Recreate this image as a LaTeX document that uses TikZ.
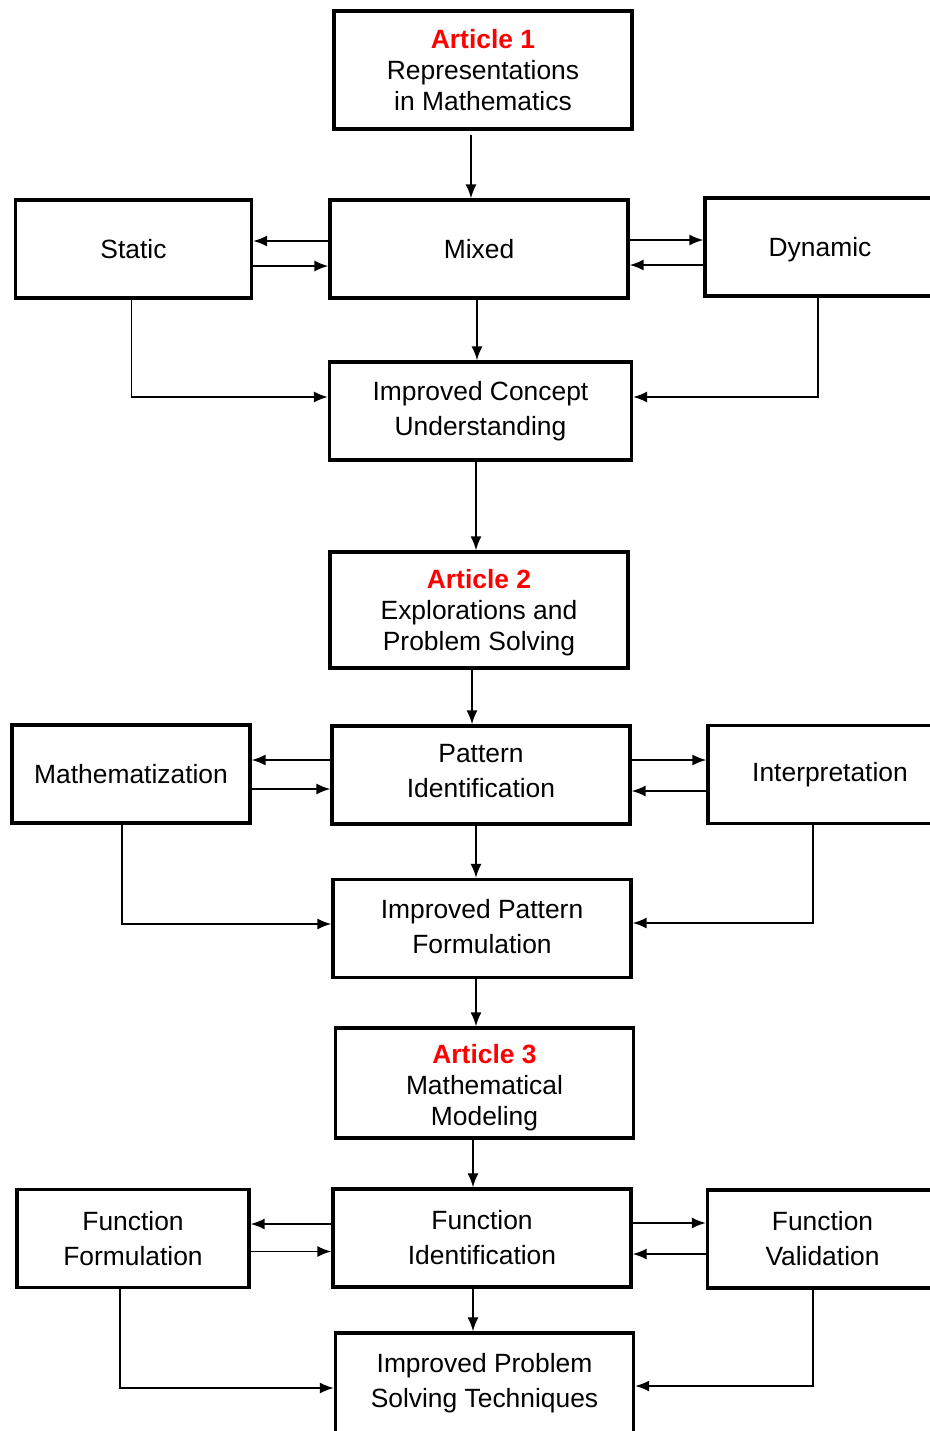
\documentclass[tikz,border=0pt]{standalone}
\usepackage{fontspec}
\setmainfont{Liberation Sans}
\usepackage{xcolor}
\usetikzlibrary{arrows,arrows.meta,positioning}
\pgfdeclarelayer{edgelayer}
\pgfdeclarelayer{nodelayer}
\pgfsetlayers{edgelayer,nodelayer,main}
\tikzset{font=\fontsize{13.2}{15.5}\selectfont}
\tikzstyle{block}=[rectangle,draw=black,line width=1.7pt,align=center,inner sep=0pt,minimum width=149pt,minimum height=49pt]
\tikzstyle{article}=[block,minimum height=58pt]
\tikzstyle{inarrow}=[-{Latex[length=7pt,width=5.5pt]},line width=0.8pt]
\newcommand{\art}[1]{\textcolor{red}{\textbf{Article #1}}}

\begin{document}
\begin{tikzpicture}[x=0.5pt,y=-0.5pt]
	\useasboundingbox (0,0) rectangle (930,1431);
	\begin{pgfonlayer}{nodelayer}
		\node [style=article, minimum height=59pt] (A1) at (483,70) {\art{1}\\Representations\\in Mathematics};
		\node [style=block, minimum width=118pt] (S) at (133.5,249) {Static};
		\node [style=block] (M) at (479,249) {Mixed};
		\node [style=block, minimum width=115pt] (D) at (820,247) {\rule{0pt}{12.5pt}Dynamic};
		\node [style=block, minimum width=151pt] (ICU) at (480.5,411) {Improved Concept\\[2pt]Understanding};
		\node [style=article] (A2) at (479,610) {\rule{0pt}{12.5pt}\art{2}\\Explorations and\\Problem Solving};
		\node [style=block, minimum width=119pt] (Ma) at (131,774) {Mathematization};
		\node [style=block] (PI) at (481,775) {Pattern\\[2pt]Identification\rule[-4pt]{0pt}{4pt}};
		\node [style=block, minimum width=122pt] (In) at (830,774.5) {Interpretation};
		\node [style=block] (IPF) at (482,928.5) {Improved Pattern\\[2pt]Formulation\rule[-2pt]{0pt}{2pt}};
		\node [style=article, minimum height=55pt] (A3) at (484.5,1083) {\rule{0pt}{14.5pt}\art{3}\\Mathematical\\Modeling};
		\node [style=block, minimum width=116pt] (FF) at (133,1238.5) {Function\\[2pt]Formulation};
		\node [style=block] (FI) at (482,1238) {Function\\[2pt]Identification};
		\node [style=block, minimum width=115pt] (FV) at (822.5,1239) {Function\\[2pt]Validation};
		\node [style=block, minimum height=50pt] (IPST) at (484.5,1383) {Improved Problem\\[2pt]Solving Techniques};
	\end{pgfonlayer}
	\begin{pgfonlayer}{edgelayer}
		% article 1
		\draw [style=inarrow, shorten <=2pt] ([xshift=-6pt]A1.south) -- ([xshift=-6pt]A1.south |- M.north);
		\draw [style=inarrow] ([yshift=4pt]M.west) -- ([yshift=4pt]M.west -| S.east);
		\draw [style=inarrow] ([yshift=-8.5pt]S.east) -- ([yshift=-8.5pt]S.east -| M.west);
		\draw [style=inarrow] ([yshift=4.5pt]M.east) -- ([yshift=4.5pt]M.east -| D.west);
		\draw [style=inarrow] ([yshift=-8pt]M.east -| D.west) -- ([yshift=-8pt]M.east);
		\draw [style=inarrow] ([xshift=-1pt]M.south) -- ([xshift=-1pt]M.south |- ICU.north);
		\draw [style=inarrow] ([xshift=-1pt]S.south) |- ([yshift=7pt]ICU.west);
		\draw [style=inarrow] ([xshift=-1pt]D.south) |- ([yshift=7pt]ICU.east);
		\draw [style=inarrow] ([xshift=-2.25pt]ICU.south) -- ([xshift=-2.25pt]ICU.south |- A2.north);
		% article 2
		\draw [style=inarrow] ([xshift=-3.5pt]A2.south) -- ([xshift=-3.5pt]A2.south |- PI.north);
		\draw [style=inarrow] ([yshift=7.5pt]PI.west) -- ([yshift=7.5pt]PI.west -| Ma.east);
		\draw [style=inarrow] ([yshift=-7.5pt]Ma.east) -- ([yshift=-7.5pt]Ma.east -| PI.west);
		\draw [style=inarrow] ([yshift=7.5pt]PI.east) -- ([yshift=7.5pt]PI.east -| In.west);
		\draw [style=inarrow] ([yshift=-8pt]PI.east -| In.west) -- ([yshift=-8pt]PI.east);
		\draw [style=inarrow] ([xshift=-2.5pt]PI.south) -- ([xshift=-2.5pt]PI.south |- IPF.north);
		\draw [style=inarrow] ([xshift=-4.5pt]Ma.south) |- ([yshift=2.25pt]IPF.west);
		\draw [style=inarrow] ([xshift=-8.5pt]In.south) |- ([yshift=2.75pt]IPF.east);
		\draw [style=inarrow] ([xshift=-3pt]IPF.south) -- ([xshift=-3pt]IPF.south |- A3.north);
		% article 3
		\draw [style=inarrow] ([xshift=-5.75pt]A3.south) -- ([xshift=-5.75pt]A3.south |- FI.north);
		\draw [style=inarrow] ([yshift=7pt]FI.west) -- ([yshift=7pt]FI.west -| FF.east);
		\draw [style=inarrow] ([yshift=-6.5pt]FF.east) -- ([yshift=-6.5pt]FF.east -| FI.west);
		\draw [style=inarrow] ([yshift=7.5pt]FI.east) -- ([yshift=7.5pt]FI.east -| FV.west);
		\draw [style=inarrow] ([yshift=-8pt]FI.east -| FV.west) -- ([yshift=-8pt]FI.east);
		\draw [style=inarrow] ([xshift=-4.5pt]FI.south) -- ([xshift=-4.5pt]FI.south |- IPST.north);
		\draw [style=inarrow] ([xshift=-6.5pt]FF.south) |- ([yshift=-2.5pt]IPST.west);
		\draw [style=inarrow] ([xshift=-4.75pt]FV.south) |- ([yshift=-1.5pt]IPST.east);
	\end{pgfonlayer}
\end{tikzpicture}
\end{document}
